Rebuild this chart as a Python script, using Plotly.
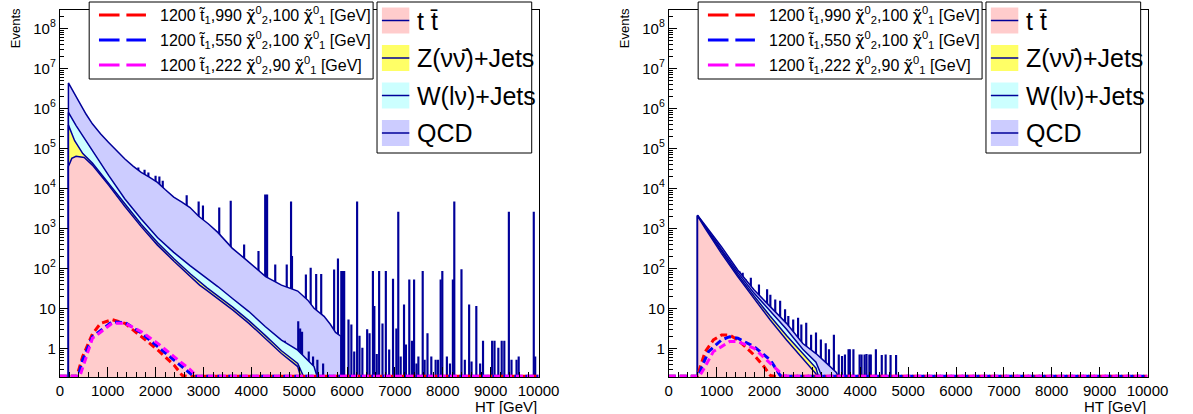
import plotly.graph_objects as go

W, H = 1193, 414

# ------------------------------------------------------------------ data
# HT [GeV] knots and Events (cumulative stack levels, as drawn by THStack)
# ---- left pad ----
L_QCD_HT = [180, 300, 410, 550, 680, 850, 1020, 1200, 1360, 1530, 1700, 1870, 2040, 2200,
            2380, 2550, 2720, 2900, 3100, 3300, 3600, 3900, 4300, 4630, 4970, 5180, 5310,
            5520, 5650, 5760, 5870]
L_QCD = [4.3e6, 2.4e6, 1.4e6, 7.1e5, 4.1e5, 2.3e5, 1.4e5, 8.5e4, 5.4e4, 3.6e4, 2.5e4, 1.9e4,
         1.4e4, 9.3e3, 6.0e3, 4.5e3, 3.3e3, 2.0e3, 1.3e3, 790, 320, 160, 62, 38, 27, 16, 10,
         6.3, 4.0, 2.5, 2.0]
L_W_HT = [180, 340, 680, 1020, 1360, 1700, 2040, 2380, 2720, 2920, 3300, 3600, 3950, 4290,
          4630, 4970, 5310, 5450]
L_W = [7.9e5, 3.7e5, 8.7e4, 2.1e4, 5.4e3, 1.7e3, 590, 250, 117, 78, 35, 17.8, 8.3, 3.5,
       1.6, 0.9, 0.35, 0.1]
L_Z_HT = [180, 310, 480, 680, 1020, 1360, 1700, 2040, 2390, 2730, 3070, 3610, 3950, 4290,
          4630, 4970, 5200]
L_Z = [3.8e5, 1.55e5, 7.4e4, 4.3e4, 1.35e4, 4.0e3, 1.26e3, 440, 170, 72, 33, 10.7, 4.9, 2.1,
       0.87, 0.42, 0.1]
L_TT_HT = [180, 250, 340, 510, 680, 1020, 1360, 1700, 2040, 2390, 2730, 2920, 3070, 3610,
           3950, 4290, 4630, 4970, 5100]
L_TT = [3.5e4, 5.6e4, 6.3e4, 5.9e4, 3.8e4, 1.2e4, 3.5e3, 1.1e3, 380, 148, 62, 38, 28, 9.1,
        4.2, 1.8, 0.74, 0.35, 0.1]
# single high-weight QCD bins (HT centre, Events)
L_QCD_SPK_HT = [1640, 1770, 1850, 2000, 2080, 2150, 2650, 2900, 2990, 3330, 3570, 3850, 4150,
                4290, 4330, 4500, 4740, 4830, 4850, 5140, 5240, 5355, 5460, 5730, 5810, 5880,
                5900, 5920, 5940, 6030, 6090, 6150, 6210, 6260, 6320, 6420, 6470, 6540, 6570,
                6620, 6670, 6740, 6810, 6880, 6960, 7030, 7070, 7120, 7190, 7230, 7300, 7355,
                7400, 7450, 7490, 7580, 7620, 7680, 7760, 7850, 7900, 7955, 7990, 8085, 8150,
                8210, 8240, 8390, 8460, 8550, 8600, 8700, 8780, 8840, 9030, 9080, 9160, 9230,
                9285, 9380, 9435, 9540, 9585, 9900, 9930]
L_QCD_SPK = [3.2e4, 2.8e4, 2.4e4, 2.0e4, 1.9e4, 1.5e4, 6.5e3, 4.5e3, 3.6e3, 3.2e3, 4.7e3, 380,
             260, 6.8e3, 6.8e3, 120, 120, 4.5e3, 195, 68, 100, 70, 70, 90, 170, 83,
             83, 83, 83, 5.1, 3.8, 0.8, 4.5e3, 2.0, 1.0, 2.9, 2.3, 83, 11,
             0.7, 83, 4.0, 83, 0.9, 53, 3.0, 2.5e3, 0.6, 12, 1.2, 51, 1.5,
             51, 0.4, 0.6, 83, 0.5, 2.3, 0.6, 0.5, 0.5, 51, 83, 0.6, 0.4,
             51, 4.5e3, 91, 0.5, 12, 0.45, 11, 0.4, 1.5, 1.5, 1.5, 1.0, 1.5,
             1.5, 2.5e3, 0.5, 0.5, 0.6, 2.5e3, 0.6]
L_W_SPK_HT = [4700, 4980, 5020, 5060, 5200, 5290, 5380, 5500]
L_W_SPK = [1.5, 4.6, 3.0, 2.5, 0.8, 0.6, 0.5, 0.4]
# signals
L_RED_HT = [0, 350, 375, 477, 682, 852, 1091, 1363, 1704, 2045, 2386, 2556, 2650, 10000]
L_RED = [0, 0, 0.24, 0.62, 2.3, 4.2, 5.2, 4.2, 1.95, 0.91, 0.38, 0.21, 0, 0]
L_BLUE_HT = [0, 380, 409, 477, 682, 1091, 1363, 1704, 2045, 2386, 2727, 2800, 10000]
L_BLUE = [0, 0, 0.26, 0.51, 1.95, 4.6, 4.4, 2.4, 1.1, 0.51, 0.24, 0, 0]
L_MAG_HT = [0, 400, 430, 682, 1091, 1363, 1704, 2045, 2386, 2727, 2863, 2950, 10000]
L_MAG = [0, 0, 0.22, 1.78, 4.2, 4.2, 2.6, 1.33, 0.62, 0.29, 0.2, 0, 0]

# ---- right pad ----
R_QCD_HT = [600, 760, 1100, 1440, 1780, 2120, 2460, 2800, 3075, 3300, 3500, 3650]
R_QCD = [2.14e3, 1.2e3, 347, 91, 29, 11, 4.2, 1.32, 0.74, 0.42, 0.25, 0.1]
R_W_HT = [600, 760, 1100, 1440, 1780, 2120, 2460, 2800, 3075, 3300]
R_W = [2.09e3, 1.12e3, 302, 79, 24, 8.3, 3.0, 0.95, 0.45, 0.1]
R_Z_HT = [600, 760, 1100, 1440, 1780, 2120, 2460, 2800, 3075, 3200]
R_Z = [2.07e3, 1.05e3, 263, 69, 20.4, 6.3, 2.1, 0.72, 0.32, 0.1]
R_TT_HT = [600, 760, 1100, 1440, 1780, 2120, 2460, 2800, 3075, 3150]
R_TT = [2.04e3, 1.0e3, 237, 62, 17.8, 5.1, 1.62, 0.56, 0.23, 0.1]
R_QCD_SPK_HT = [1476, 1544, 1612, 1714, 1884, 2054, 2122, 2224, 2326, 2429, 2497, 2599, 2701,
                2769, 2871, 2973, 3075, 3177, 3279, 3347, 3449, 3551, 3619, 3680, 3755, 3782,
                3857, 3986, 4027, 4090, 4130, 4190, 4220, 4326, 4449, 4530, 4633, 4748]
R_QCD_SPK = [82, 75, 51, 56, 38, 29, 21, 16, 15, 9.1, 6.2, 5.1, 5.6,
             3.8, 4.2, 2.1, 2.4, 1.6, 1.3, 0.91, 2.1, 0.68, 0.62, 0.68, 0.91, 0.91,
             0.91, 0.68, 0.68, 0.68, 0.7, 0.68, 0.68, 0.91, 0.66, 0.68, 0.66, 0.66]
R_RED_HT = [0, 600, 660, 762, 932, 1102, 1272, 1442, 1782, 1986, 2122, 2200, 10000]
R_RED = [0, 0, 0.35, 0.83, 1.62, 2.14, 2.14, 1.62, 0.68, 0.35, 0.21, 0, 0]
R_BLUE_HT = [0, 620, 694, 830, 1102, 1272, 1442, 1782, 2122, 2326, 2400, 10000]
R_BLUE = [0, 0, 0.35, 0.83, 1.62, 1.95, 1.78, 1.1, 0.51, 0.21, 0, 0]
R_MAG_HT = [0, 640, 728, 932, 1102, 1272, 1442, 1782, 2122, 2394, 2470, 10000]
R_MAG = [0, 0, 0.3, 0.83, 1.1, 1.48, 1.48, 1.0, 0.42, 0.21, 0, 0]

# ---- labels ----
X_TICKS = [0, 1000, 2000, 3000, 4000, 5000, 6000, 7000, 8000, 9000, 10000]
Y_TICKS = [1, 10, 1e2, 1e3, 1e4, 1e5, 1e6, 1e7, 1e8]
Y_TICK_TEXT = ["1", "10", "10<sup>2</sup>", "10<sup>3</sup>", "10<sup>4</sup>",
               "10<sup>5</sup>", "10<sup>6</sup>", "10<sup>7</sup>", "10<sup>8</sup>"]
CHI = '<span style="font-family:DejaVu Sans">\u03c7\u0303</span>'
SIG_LABELS = [
    "1200 t\u0303<sub>1</sub>,990 " + CHI + "<sup>0</sup><sub>2</sub>,100 " + CHI + "<sup>0</sup><sub>1</sub> [GeV]",
    "1200 t\u0303<sub>1</sub>,550 " + CHI + "<sup>0</sup><sub>2</sub>,100 " + CHI + "<sup>0</sup><sub>1</sub> [GeV]",
    "1200 t\u0303<sub>1</sub>,222 " + CHI + "<sup>0</sup><sub>2</sub>,90 " + CHI + "<sup>0</sup><sub>1</sub> [GeV]",
]
BKG_LABELS = ["t t\u0304", "Z(\u03bd\u03bd\u0304)+Jets", "W(l\u03bd)+Jets", "QCD"]
X_TITLE = "HT [GeV]"
Y_TITLE = "Events"

# ------------------------------------------------------------------ style
FONT = "Liberation Sans, Arial, Helvetica, sans-serif"
NAVY = "#000099"
C_TT, C_Z, C_W, C_QCD = "#FFCCCC", "#FFFF66", "#CCFFFF", "#CCCCFF"
SIG_COLORS = ["#FF0000", "#0000FF", "#FF00FF"]
BKG_COLORS = [C_TT, C_Z, C_W, C_QCD]
FLOOR = 1e-3                 # closes filled histograms below the visible range
ZERO_LEVEL = 10 ** -0.70     # empty signal bins are drawn on the frame, as ROOT does
Y_RANGE = [-0.7175, 8.4575]

fig = go.Figure()


def px(x):
    return x / W


def py(y):
    return 1 - y / H


def area(ht, ev, color, xa, ya):
    xs = [ht[0]] + list(ht) + [ht[-1]]
    ys = [FLOOR] + list(ev) + [FLOOR]
    fig.add_trace(go.Scatter(x=xs, y=ys, mode="lines", fill="toself", fillcolor=color,
                             line=dict(color=NAVY, width=1.5), xaxis=xa, yaxis=ya,
                             showlegend=False, hoverinfo="skip"))


def spikes(ht, ev, color, xa, ya, width=20):
    xs, ys = [], []
    for h, v in zip(ht, ev):
        xs += [h - width / 2, h - width / 2, h + width / 2, h + width / 2, None]
        ys += [FLOOR, v, v, FLOOR, None]
    fig.add_trace(go.Scatter(x=xs, y=ys, mode="lines", fill="toself", fillcolor=color,
                             line=dict(color=NAVY, width=1.2), xaxis=xa, yaxis=ya,
                             showlegend=False, hoverinfo="skip"))


def signal(ht, ev, color, xa, ya):
    ys = [v if v > 0 else ZERO_LEVEL for v in ev]
    fig.add_trace(go.Scatter(x=ht, y=ys, mode="lines",
                             line=dict(color=color, width=3, dash="7px,4px"),
                             xaxis=xa, yaxis=ya, showlegend=False, hoverinfo="skip"))


panels = [
    dict(xa="x", ya="y",
         qcd=(L_QCD_HT, L_QCD), w=(L_W_HT, L_W), z=(L_Z_HT, L_Z), tt=(L_TT_HT, L_TT),
         qspk=(L_QCD_SPK_HT, L_QCD_SPK), wspk=(L_W_SPK_HT, L_W_SPK),
         sig=[(L_RED_HT, L_RED), (L_BLUE_HT, L_BLUE), (L_MAG_HT, L_MAG)], off=0),
    dict(xa="x2", ya="y2",
         qcd=(R_QCD_HT, R_QCD), w=(R_W_HT, R_W), z=(R_Z_HT, R_Z), tt=(R_TT_HT, R_TT),
         qspk=(R_QCD_SPK_HT, R_QCD_SPK), wspk=([], []),
         sig=[(R_RED_HT, R_RED), (R_BLUE_HT, R_BLUE), (R_MAG_HT, R_MAG)], off=622),
]

for p in panels:
    xa, ya = p["xa"], p["ya"]
    spikes(*p["qspk"], C_QCD, xa, ya)
    area(*p["qcd"], C_QCD, xa, ya)
    if p["wspk"][0]:
        spikes(*p["wspk"], C_W, xa, ya)
    area(*p["w"], C_W, xa, ya)
    area(*p["z"], C_Z, xa, ya)
    area(*p["tt"], C_TT, xa, ya)
    for (ht, ev), c in zip(p["sig"], SIG_COLORS):
        signal(ht, ev, c, xa, ya)

minor_y = [m * 10 ** k for k in range(-1, 9) for m in range(2, 10)]

shapes, annotations = [], []
for p in panels:
    o = p["off"]
    # signal legend
    shapes.append(dict(type="rect", xref="paper", yref="paper", x0=px(87 + o), x1=px(377 + o),
                       y0=py(79), y1=py(2), fillcolor="white", line=dict(color="black", width=1),
                       layer="above"))
    for i, (lab, c) in enumerate(zip(SIG_LABELS, SIG_COLORS)):
        yc = 15 + 25 * i
        for a, b in [(97, 118), (125, 145)]:
            shapes.append(dict(type="line", xref="paper", yref="paper", x0=px(a + o), x1=px(b + o),
                               y0=py(yc), y1=py(yc), line=dict(color=c, width=3), layer="above"))
        annotations.append(dict(text=lab, xref="paper", yref="paper", x=px(157 + o), y=py(yc),
                                xanchor="left", yanchor="middle", showarrow=False,
                                font=dict(family=FONT, size=16, color="black")))
    # background legend
    shapes.append(dict(type="rect", xref="paper", yref="paper", x0=px(381 + o), x1=px(539 + o),
                       y0=py(153), y1=py(2), fillcolor="white", line=dict(color="black", width=1),
                       layer="above"))
    for i, (lab, c) in enumerate(zip(BKG_LABELS, BKG_COLORS)):
        yc = 20.5 + 37.5 * i
        shapes.append(dict(type="rect", xref="paper", yref="paper", x0=px(386 + o), x1=px(414 + o),
                           y0=py(yc + 13), y1=py(yc - 13), fillcolor=c, line=dict(width=0),
                           layer="above"))
        shapes.append(dict(type="line", xref="paper", yref="paper", x0=px(386 + o), x1=px(414 + o),
                           y0=py(yc), y1=py(yc), line=dict(color=NAVY, width=1.5), layer="above"))
        annotations.append(dict(text=lab, xref="paper", yref="paper", x=px(420 + o), y=py(yc),
                                xanchor="left", yanchor="middle", showarrow=False,
                                font=dict(family=FONT, size=25, color="black")))
    annotations.append(dict(text=X_TITLE, xref="paper", yref="paper", x=px(546 + o), y=py(406),
                            xanchor="right", yanchor="middle", showarrow=False,
                            font=dict(family=FONT, size=15, color="black")))
    annotations.append(dict(text=Y_TITLE, xref="paper", yref="paper", x=px(12.5 + o), y=py(28),
                            xanchor="center", yanchor="middle", textangle=-90, showarrow=False,
                            font=dict(family=FONT, size=13, color="black")))

axis_common = dict(showline=True, linecolor="black", linewidth=1, mirror=True, showgrid=False,
                   zeroline=False, ticks="inside", tickcolor="black",
                   tickfont=dict(family=FONT, size=15, color="black"))
xaxis_cfg = dict(axis_common, range=[0, 10000], tickmode="array", tickvals=X_TICKS,
                 ticktext=[str(v) for v in X_TICKS], ticklen=10,
                 minor=dict(ticks="inside", ticklen=5, dtick=200, tickcolor="black"))
yaxis_cfg = dict(axis_common, type="log", range=Y_RANGE, tickmode="array", tickvals=Y_TICKS,
                 ticktext=Y_TICK_TEXT, ticklen=8,
                 minor=dict(ticks="inside", ticklen=4, tickmode="array", tickvals=minor_y,
                            tickcolor="black"))

fig.update_layout(
    width=W, height=H, margin=dict(l=0, r=0, t=0, b=0),
    paper_bgcolor="white", plot_bgcolor="white", showlegend=False,
    xaxis=dict(xaxis_cfg, domain=[px(57), px(546)], anchor="y"),
    yaxis=dict(yaxis_cfg, domain=[py(377), py(10)], anchor="x"),
    xaxis2=dict(xaxis_cfg, domain=[px(679), px(1168)], anchor="y2"),
    yaxis2=dict(yaxis_cfg, domain=[py(377), py(10)], anchor="x2"),
    shapes=shapes, annotations=annotations,
)

fig.write_html("out.html")
